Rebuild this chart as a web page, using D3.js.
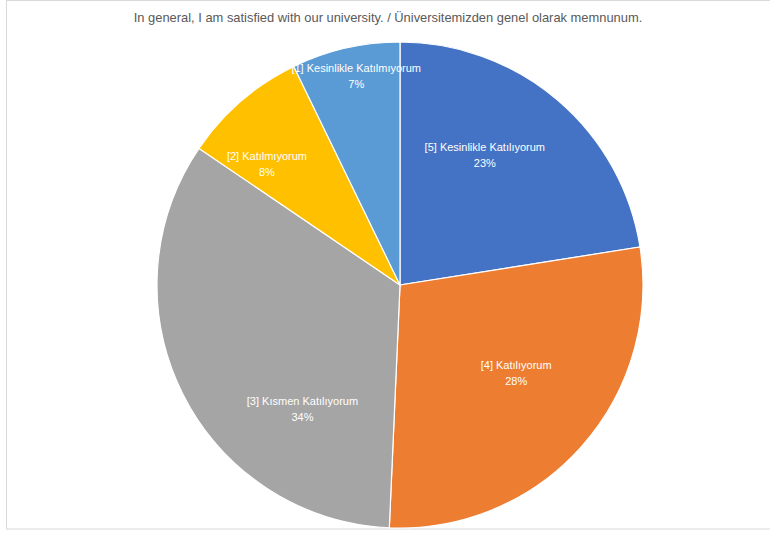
<!DOCTYPE html>
<html><head><meta charset="utf-8">
<script src="https://cdn.jsdelivr.net/npm/d3@7"></script>
<style>body{margin:0;background:#fff}</style>
</head><body>
<script>
const categories = ["[5] Kesinlikle Katılıyorum","[4] Katılıyorum","[3] Kısmen Katılıyorum","[2] Katılmıyorum","[1] Kesinlikle Katılmıyorum"];
const values = [22.5, 28.2, 33.8, 8.3, 7.2];
const percentLabels = ["23%","28%","34%","8%","7%"];
const colors = ["#4472C4","#ED7D31","#A5A5A5","#FFC000","#5B9BD5"];
const title = "In general, I am satisfied with our university. / Üniversitemizden genel olarak memnunum.";
// label placement tweaks (angle shift in radians, radius fraction)
const labelLayout = [[-0.13,0.64],[-0.08,0.60],[-0.44,0.65],[-0.12,0.74],[0.02,0.88]];

const W=770,H=534;
const svg=d3.select("body").append("svg").attr("width",W).attr("height",H);
svg.append("rect").attr("x",6.5).attr("y",0.5).attr("width",W).attr("height",528.5)
  .attr("fill","#fff").attr("stroke","#d9d9d9").attr("stroke-width",1);
const font="'Liberation Sans','Arial',sans-serif";
svg.append("text").attr("x",388).attr("y",21.5).attr("text-anchor","middle")
  .attr("font-family",font).attr("font-size",12.9).attr("fill","#595959").text(title);

const cx=400,cy=285,r=243;
const pie=d3.pie().sort(null).value(d=>d);
const arcs=pie(values);
const arc=d3.arc().innerRadius(0).outerRadius(r);
const g=svg.append("g").attr("transform",`translate(${cx},${cy})`);
g.selectAll("path").data(arcs).join("path").attr("d",arc)
  .attr("fill",(d,i)=>colors[i]).attr("stroke","#fff").attr("stroke-width",1.2);
arcs.forEach((a,i)=>{
  const mid=(a.startAngle+a.endAngle)/2+labelLayout[i][0];
  const rr=r*labelLayout[i][1];
  const x=Math.sin(mid)*rr, y=-Math.cos(mid)*rr;
  const t=g.append("text").attr("text-anchor","middle").attr("font-family",font)
    .attr("font-size",11).attr("fill","#fff");
  t.append("tspan").attr("x",x).attr("y",y-4).text(categories[i]);
  t.append("tspan").attr("x",x).attr("y",y+12).text(percentLabels[i]);
});
</script>
</body></html>
